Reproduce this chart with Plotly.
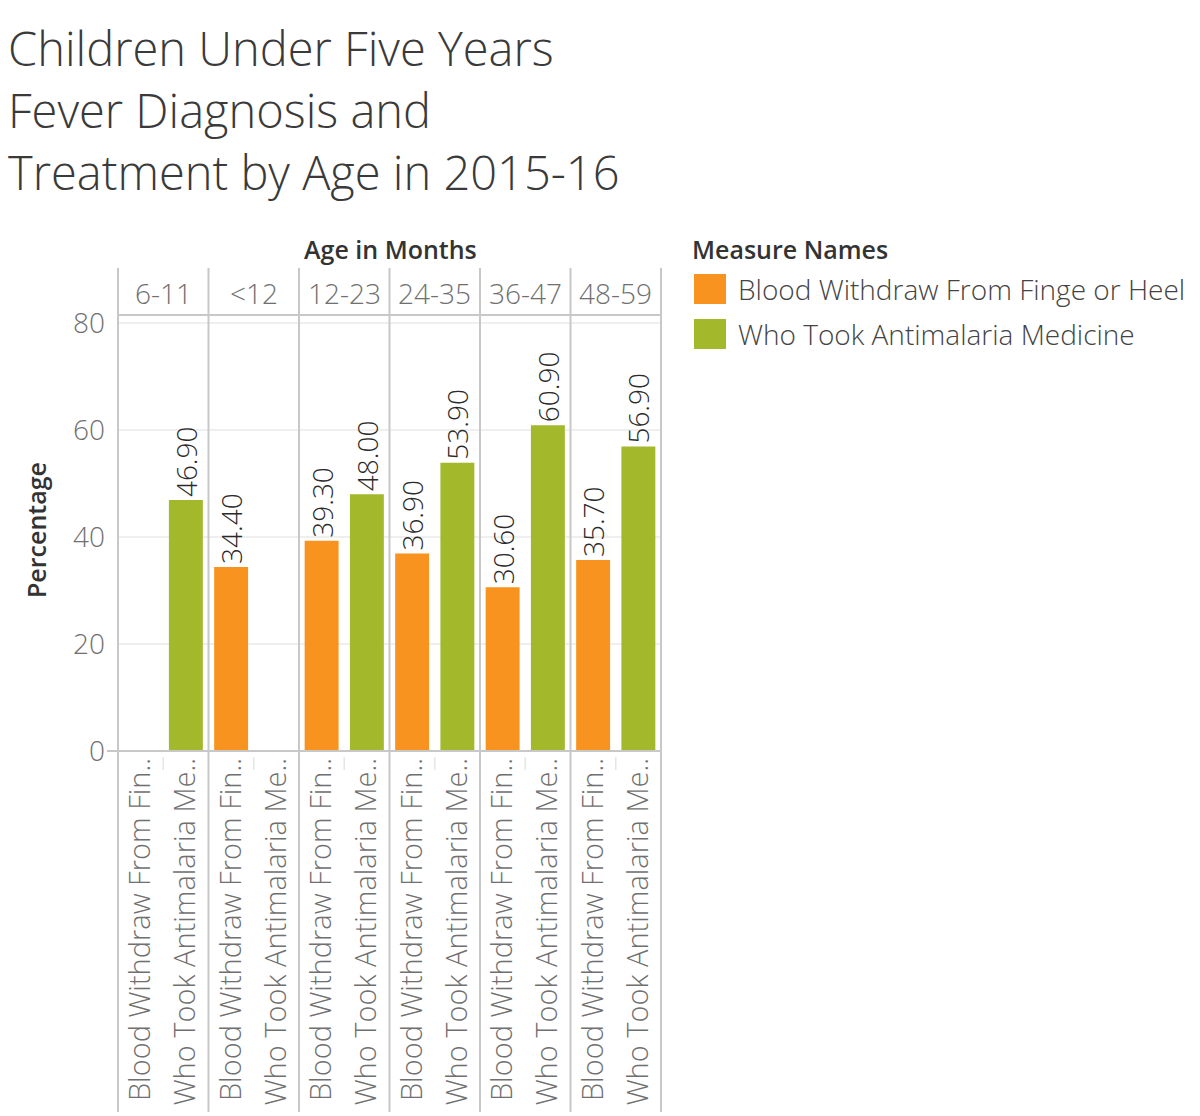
import plotly.graph_objects as go
from plotly.subplots import make_subplots

# ---------------- data ----------------
ages = ["6-11", "<12", "12-23", "24-35", "36-47", "48-59"]
measures = ["Blood Withdraw From Finge or Heel", "Who Took Antimalaria Medicine"]
measure_ticks = ["Blood Withdraw From Fin..", "Who Took Antimalaria Me.."]
blood = [None, 34.4, 39.3, 36.9, 30.6, 35.7]
antimalaria = [46.9, None, 48.0, 53.9, 60.9, 56.9]
y_ticks = [0, 20, 40, 60, 80]
title_lines = ["Children Under Five Years", "Fever Diagnosis and", "Treatment by Age in 2015-16"]
colors = ["#F7931E", "#A3B82A"]

# ---------------- layout geometry (pixels) ----------------
W, H = 1200, 1116
L, R, T, B = 118, 661, 315, 751
FONT = "Open Sans"
GRID = "#C8C8C8"


def px_x(px):
    return (px - L) / (R - L)


def px_y(py):
    return (B - py) / (B - T)


fig = make_subplots(rows=1, cols=len(ages), shared_yaxes=True, horizontal_spacing=0)
series = [blood, antimalaria]
for i, age in enumerate(ages):
    for m, name in enumerate(measures):
        v = series[m][i]
        fig.add_trace(
            go.Bar(
                x=[name], y=[v], name=name, width=0.75,
                marker=dict(color=colors[m], line=dict(width=0)),
                text=[f"{v:.2f}" if v is not None else ""],
                textposition="outside", textangle=-90, constraintext="none",
                textfont=dict(family=FONT, size=28, color="#2a2a2a", weight=300),
                cliponaxis=False, showlegend=False, hoverinfo="x+y",
            ),
            row=1, col=i + 1,
        )
    fig.update_xaxes(
        type="category", categoryorder="array", categoryarray=measures,
        tickvals=measures, ticktext=measure_ticks, tickangle=-90,
        tickfont=dict(family=FONT, size=29, color="#707070", weight=300),
        range=[-0.5, 1.5], showgrid=False, zeroline=False, showline=False,
        ticks="", automargin=False, fixedrange=True,
        row=1, col=i + 1,
    )

fig.update_yaxes(
    range=[0, 81.5], tickvals=y_ticks, showgrid=True, gridcolor="#EFEFEF", gridwidth=1.5,
    zeroline=False, showline=False, ticks="", ticklabelstandoff=12,
    tickfont=dict(family=FONT, size=28, color="#707070", weight=300), automargin=False,
    fixedrange=True,
)

shapes = []
n = len(ages)
for k in range(n + 1):
    shapes.append(dict(type="line", xref="paper", yref="paper", x0=k / n, x1=k / n,
                       y0=px_y(1112), y1=px_y(268), line=dict(color=GRID, width=2)))
for k in range(n):
    xm = (k + 0.5) / n
    shapes.append(dict(type="line", xref="paper", yref="paper", x0=xm, x1=xm,
                       y0=px_y(770), y1=px_y(757), line=dict(color="#E6E6E6", width=1.5)))
shapes.append(dict(type="line", xref="paper", yref="paper", x0=0, x1=1,
                   y0=px_y(315), y1=px_y(315), line=dict(color=GRID, width=2)))
shapes.append(dict(type="line", xref="paper", yref="paper", x0=px_x(107), x1=1,
                   y0=0, y1=0, line=dict(color=GRID, width=2)))
shapes.append(dict(type="rect", xref="paper", yref="paper", x0=px_x(694), x1=px_x(726),
                   y0=px_y(304), y1=px_y(274), fillcolor=colors[0], line=dict(width=0)))
shapes.append(dict(type="rect", xref="paper", yref="paper", x0=px_x(694), x1=px_x(726),
                   y0=px_y(349), y1=px_y(319), fillcolor=colors[1], line=dict(width=0)))

annotations = []
for j, line in enumerate(title_lines):
    annotations.append(dict(text=line, xref="paper", yref="paper", x=px_x(6),
                            y=px_y(48 + 62 * j), xanchor="left", yanchor="middle",
                            showarrow=False,
                            font=dict(family=FONT, size=47, color="#3a3a3a", weight=300)))
annotations.append(dict(text="Age in Months", xref="paper", yref="paper", x=px_x(390),
                        y=px_y(249), xanchor="center", yanchor="middle", showarrow=False,
                        font=dict(family=FONT, size=25, color="#333333", weight=600)))
for k, age in enumerate(ages):
    annotations.append(dict(text=age, xref="paper", yref="paper", x=(k + 0.5) / n,
                            y=px_y(293), xanchor="center", yanchor="middle", showarrow=False,
                            font=dict(family=FONT, size=28, color="#707070", weight=300)))
annotations.append(dict(text="Percentage", xref="paper", yref="paper", x=px_x(36),
                        y=px_y(530), xanchor="center", yanchor="middle", textangle=-90,
                        showarrow=False,
                        font=dict(family=FONT, size=25, color="#333333", weight=600)))
annotations.append(dict(text="Measure Names", xref="paper", yref="paper", x=px_x(690),
                        y=px_y(249), xanchor="left", yanchor="middle", showarrow=False,
                        font=dict(family=FONT, size=25, color="#333333", weight=600)))
for m, name in enumerate(measures):
    annotations.append(dict(text=name, xref="paper", yref="paper", x=px_x(736),
                            y=px_y(289 + 45 * m), xanchor="left", yanchor="middle",
                            showarrow=False,
                            font=dict(family=FONT, size=28, color="#444444", weight=300)))

fig.update_layout(
    width=W, height=H, autosize=False,
    margin=dict(l=L, r=W - R, t=T, b=H - B, pad=0),
    paper_bgcolor="white", plot_bgcolor="white",
    barmode="overlay", showlegend=False,
    font=dict(family=FONT, color="#444444"),
    shapes=shapes, annotations=annotations,
)

fig.write_html("out.html", config={"displayModeBar": False},
               post_script="document.body.style.margin='0px';")
